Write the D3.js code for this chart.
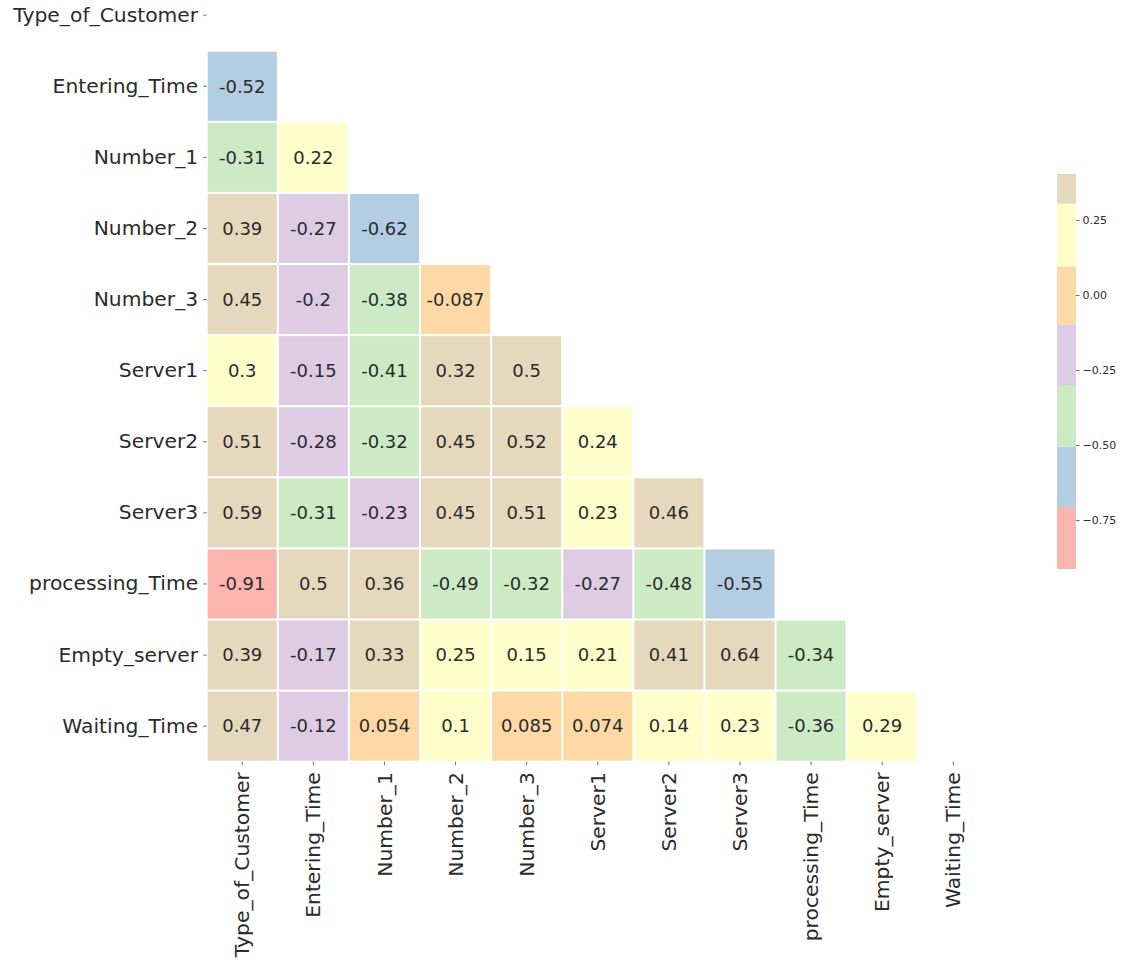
<!DOCTYPE html>
<html>
<head>
<meta charset="utf-8">
<script src="https://cdn.jsdelivr.net/npm/d3@7"></script>
<style>
  html, body { margin: 0; padding: 0; background: #ffffff; }
  svg { display: block; }
  text { font-family: "DejaVu Sans", sans-serif; }
</style>
</head>
<body>
<svg id="chart" width="1125" height="964"></svg>
<script>
// Variable names (rows and columns of the correlation matrix)
const variables = [
  "Type_of_Customer", "Entering_Time", "Number_1", "Number_2", "Number_3",
  "Server1", "Server2", "Server3", "processing_Time", "Empty_server", "Waiting_Time"
];

// Lower-triangle correlations, one array per row (columns 0..row-1)
const rowEnteringTime   = [-0.52];
const rowNumber1        = [-0.31, 0.22];
const rowNumber2        = [0.39, -0.27, -0.62];
const rowNumber3        = [0.45, -0.2, -0.38, -0.087];
const rowServer1        = [0.3, -0.15, -0.41, 0.32, 0.5];
const rowServer2        = [0.51, -0.28, -0.32, 0.45, 0.52, 0.24];
const rowServer3        = [0.59, -0.31, -0.23, 0.45, 0.51, 0.23, 0.46];
const rowProcessingTime = [-0.91, 0.5, 0.36, -0.49, -0.32, -0.27, -0.48, -0.55];
const rowEmptyServer    = [0.39, -0.17, 0.33, 0.25, 0.15, 0.21, 0.41, 0.64, -0.34];
const rowWaitingTime    = [0.47, -0.12, 0.054, 0.1, 0.085, 0.074, 0.14, 0.23, -0.36, 0.29];

const lowerRows = [
  [], rowEnteringTime, rowNumber1, rowNumber2, rowNumber3, rowServer1,
  rowServer2, rowServer3, rowProcessingTime, rowEmptyServer, rowWaitingTime
];

// Colour bar range, bin edges and tick values
const colorDomain = [-0.912, 0.403];
const binEdges = [-0.706, -0.505, -0.30, -0.098, 0.096, 0.305];
const binColors = ["#fbb4ae", "#b3cde3", "#ccebc5", "#decbe4", "#fed9a6", "#ffffcc", "#e5d8bd"];
const colorbarTicks = [-0.75, -0.5, -0.25, 0, 0.25];

// Flatten to cells
const cells = [];
lowerRows.forEach((vals, i) => {
  vals.forEach((v, j) => cells.push({ row: variables[i], col: variables[j], value: v }));
});

const svg = d3.select("#chart");
const textColor = "#2b2b2b";

const x = d3.scaleBand().domain(variables).range([206.7, 988.8]).paddingInner(0).paddingOuter(0);
const y = d3.scaleBand().domain(variables).range([-20.4, 761.7]).paddingInner(0).paddingOuter(0);

const color = d3.scaleThreshold().domain(binEdges).range(binColors);

// Heatmap cells
const g = svg.append("g");
const gap = 1;
g.selectAll("rect.cell")
  .data(cells)
  .join("rect")
  .attr("class", "cell")
  .attr("x", d => x(d.col) + gap)
  .attr("y", d => y(d.row) + gap)
  .attr("width", x.bandwidth() - 2 * gap)
  .attr("height", y.bandwidth() - 2 * gap)
  .attr("fill", d => color(d.value));

// Cell annotations
g.selectAll("text.annot")
  .data(cells)
  .join("text")
  .attr("class", "annot")
  .attr("x", d => x(d.col) + x.bandwidth() / 2)
  .attr("y", d => y(d.row) + y.bandwidth() / 2)
  .attr("dy", "0.35em")
  .attr("text-anchor", "middle")
  .attr("font-size", 18)
  .attr("fill", textColor)
  .text(d => String(d.value));

// Left axis
const yAxis = svg.append("g")
  .attr("transform", `translate(${x.range()[0]},0)`)
  .call(d3.axisLeft(y).tickSize(3.5).tickPadding(5));
yAxis.select(".domain").remove();
yAxis.selectAll(".tick line").attr("stroke", "#444").attr("stroke-width", 0.8);
yAxis.selectAll(".tick text")
  .attr("font-size", 20.3)
  .attr("fill", textColor)
  .attr("font-family", "DejaVu Sans");

// Bottom axis with vertical labels
const xAxis = svg.append("g")
  .attr("transform", `translate(0,${y.range()[1]})`)
  .call(d3.axisBottom(x).tickSize(3.5).tickPadding(4.5));
xAxis.select(".domain").remove();
xAxis.selectAll(".tick line").attr("stroke", "#444").attr("stroke-width", 0.8);
xAxis.selectAll(".tick text")
  .attr("font-size", 20.3)
  .attr("fill", textColor)
  .attr("font-family", "DejaVu Sans")
  .attr("transform", "rotate(-90)")
  .attr("text-anchor", "end")
  .attr("x", -10.5)
  .attr("y", 0)
  .attr("dy", "0.35em");

// Colour bar
const cbX = 1057, cbW = 19;
const cbScale = d3.scaleLinear().domain(colorDomain).range([568.7, 174]);
const bandEdges = [colorDomain[0], ...binEdges, colorDomain[1]];
const bands = binColors.map((c, i) => ({ lo: bandEdges[i], hi: bandEdges[i + 1], c }));
const cb = svg.append("g");
cb.selectAll("rect")
  .data(bands)
  .join("rect")
  .attr("x", cbX)
  .attr("y", d => cbScale(d.hi))
  .attr("width", cbW)
  .attr("height", d => cbScale(d.lo) - cbScale(d.hi) + 0.3)
  .attr("fill", d => d.c);

const cbAxis = svg.append("g")
  .attr("transform", `translate(${cbX + cbW},0)`)
  .call(d3.axisRight(cbScale).tickValues(colorbarTicks).tickFormat(d3.format(".2f")).tickSize(3.5).tickPadding(3));
cbAxis.select(".domain").remove();
cbAxis.selectAll(".tick line").attr("stroke", "#444").attr("stroke-width", 0.8);
cbAxis.selectAll(".tick text")
  .attr("font-size", 11)
  .attr("fill", textColor)
  .attr("font-family", "DejaVu Sans");
</script>
</body>
</html>
